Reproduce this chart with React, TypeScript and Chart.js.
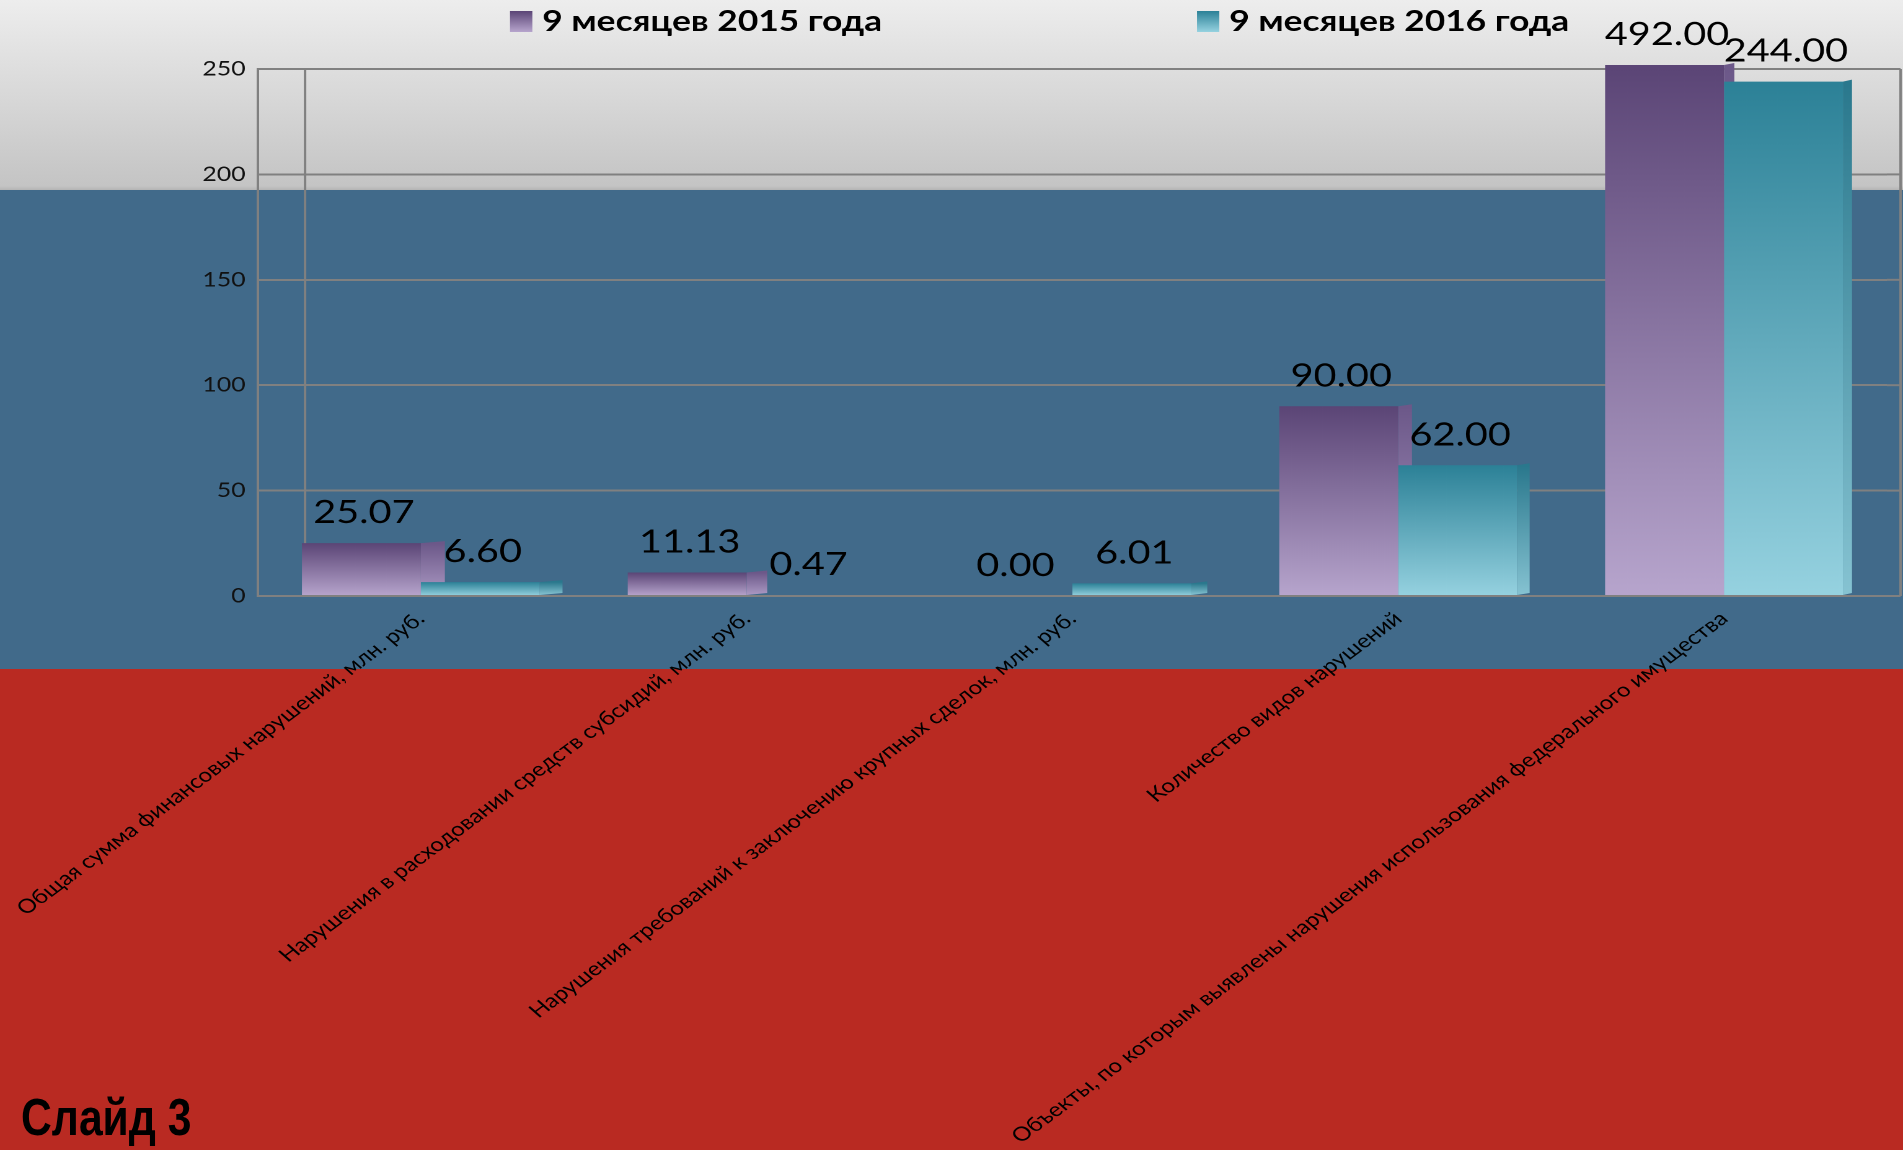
import React, { useEffect, useRef } from 'react';
import { Chart, registerables } from 'chart.js';

Chart.register(...registerables);

// ---------- data ----------
const categories = [
  'Общая сумма финансовых нарушений, млн. руб.',
  'Нарушения в расходовании средств субсидий, млн. руб.',
  'Нарушения требований к заключению крупных сделок, млн. руб.',
  'Количество видов нарушений',
  'Объекты, по которым выявлены нарушения использования федерального имущества',
];
const seriesLabels = ['9 месяцев 2015 года', '9 месяцев 2016 года'];
const values2015 = [25.07, 11.13, 0.0, 90.0, 492.0];
const values2016 = [6.6, 0.47, 6.01, 62.0, 244.0];
const yMin = 0;
const yMax = 250;
const yStep = 50;
const slideTitle = 'Слайд 3';

// ---------- look ----------
const FULL_W = 1903;
const FULL_H = 1150;
const STRETCH = 1.24; // the slide is stretched horizontally
const W = Math.round(FULL_W / STRETCH);
const H = FULL_H;

const palettes = [
  { top: '#5b4576', bottom: '#b7a5cd', sideTop: '#6c5889', sideBottom: '#ab99c3' },
  { top: '#2c8197', bottom: '#96d2e0', sideTop: '#2a788d', sideBottom: '#86c3d2' },
];
const GRID = '#808080';

function barGradient(context: any, pal: any) {
  const chart = context.chart;
  const { chartArea, scales } = chart;
  if (!chartArea || !scales || !scales.y) return pal.top;
  const y = scales.y;
  const v = context.raw as number;
  const top = y.getPixelForValue(Math.min(v, y.max)) - 4 * (v > y.max ? 1 : 0);
  const bottom = y.getPixelForValue(0);
  if (Math.abs(bottom - top) < 1) return pal.bottom;
  const g = chart.ctx.createLinearGradient(0, top, 0, bottom);
  g.addColorStop(0, pal.top);
  g.addColorStop(1, pal.bottom);
  return g;
}

function drawSides(chart: any, datasetIndex: number) {
  const { ctx, chartArea } = chart;
  const pal = palettes[datasetIndex];
  const meta = chart.getDatasetMeta(datasetIndex);
  meta.data.forEach((el: any) => {
    const { x, y, base, width } = el.getProps(['x', 'y', 'base', 'width'], true);
    if (Math.abs(base - y) < 0.5) return;
    const top = Math.max(y, chartArea.top - 4);
    const xr = x + width / 2;
    const xFull = xr * STRETCH;
    const d = Math.max(6, 24 - (xFull - 423) * 0.0105) / STRETCH;
    const dy = 2;
    const g = ctx.createLinearGradient(0, top, 0, base);
    g.addColorStop(0, pal.sideTop);
    g.addColorStop(1, pal.sideBottom);
    ctx.save();
    ctx.beginPath();
    ctx.moveTo(xr, top);
    ctx.lineTo(xr + d, top - dy);
    ctx.lineTo(xr + d, base - dy);
    ctx.lineTo(xr, base);
    ctx.closePath();
    ctx.fillStyle = g;
    ctx.fill();
    ctx.restore();
  });
}

// first series' side faces lie under the second series' bars, so they go first
const sideFacesPlugin = {
  id: 'sideFaces',
  beforeDatasetsDraw(chart: any) {
    drawSides(chart, 0);
  },
  afterDatasetsDraw(chart: any) {
    drawSides(chart, 1);
  },
};

const dataLabelsPlugin = {
  id: 'dataLabels',
  afterDatasetsDraw(chart: any) {
    const { ctx, chartArea } = chart;
    ctx.save();
    ctx.font = '32px Lato';
    ctx.fillStyle = '#000';
    ctx.textAlign = 'center';
    ctx.textBaseline = 'alphabetic';
    chart.data.datasets.forEach((ds: any, di: number) => {
      const meta = chart.getDatasetMeta(di);
      meta.data.forEach((el: any, i: number) => {
        const { x, y } = el.getProps(['x', 'y'], true);
        const top = Math.max(y, chartArea.top - 4);
        ctx.fillText(Number(ds.data[i]).toFixed(2), x + 2, top - 20);
      });
    });
    ctx.restore();
  },
};

const framePlugin = {
  id: 'frame',
  beforeDatasetsDraw(chart: any) {
    const { ctx, chartArea, scales } = chart;
    const y = scales.y;
    ctx.save();
    ctx.strokeStyle = GRID;
    ctx.lineWidth = 2;
    // extend grid lines to the right edge
    y.ticks.forEach((t: any) => {
      const py = y.getPixelForValue(t.value);
      ctx.beginPath();
      ctx.moveTo(chartArea.right, py);
      ctx.lineTo(chart.width - 2, py);
      ctx.stroke();
    });
    // back wall & right wall
    const backX = chartArea.left + 38;
    ctx.beginPath();
    ctx.moveTo(backX, y.getPixelForValue(yMax));
    ctx.lineTo(backX, y.getPixelForValue(yMin));
    ctx.moveTo(chart.width - 2, y.getPixelForValue(yMax));
    ctx.lineTo(chart.width - 2, y.getPixelForValue(yMin));
    ctx.stroke();
    ctx.restore();
  },
};

const legendPlugin = {
  id: 'customLegend',
  afterDraw(chart: any) {
    const { ctx } = chart;
    const positions = [0.268, 0.629];
    ctx.save();
    ctx.font = 'bold 28.5px Lato';
    ctx.textBaseline = 'alphabetic';
    ctx.textAlign = 'left';
    chart.data.datasets.forEach((ds: any, i: number) => {
      const bx = chart.width * positions[i];
      const pal = palettes[i];
      const g = ctx.createLinearGradient(0, 11, 0, 32);
      g.addColorStop(0, pal.top);
      g.addColorStop(1, pal.bottom);
      ctx.fillStyle = g;
      ctx.fillRect(bx, 11, 18, 21);
      ctx.fillStyle = '#000';
      ctx.fillText(ds.label, bx + 26, 31);
    });
    ctx.restore();
  },
};

export default function App() {
  const canvasRef = useRef<HTMLCanvasElement | null>(null);

  useEffect(() => {
    const canvas = canvasRef.current;
    if (!canvas) return;
    const chart = new Chart(canvas, {
      type: 'bar',
      data: {
        labels: categories,
        datasets: [
          {
            label: seriesLabels[0],
            data: values2015,
            backgroundColor: (c: any) => barGradient(c, palettes[0]),
            borderWidth: 0,
            clip: { left: 0, right: 0, top: 4, bottom: 0 } as any,
          },
          {
            label: seriesLabels[1],
            data: values2016,
            backgroundColor: (c: any) => barGradient(c, palettes[1]),
            borderWidth: 0,
            clip: { left: 0, right: 0, top: 4, bottom: 0 } as any,
          },
        ],
      },
      options: {
        animation: false,
        responsive: false,
        devicePixelRatio: 2,
        layout: { padding: { top: 69, right: W - 1522, left: 0, bottom: 0 } },
        datasets: { bar: { categoryPercentage: 0.73, barPercentage: 1.0 } },
        plugins: {
          legend: { display: false },
          tooltip: { enabled: false },
        },
        scales: {
          x: {
            grid: { display: false },
            border: { display: false },
            ticks: {
              color: '#000',
              font: { family: 'Lato', size: 19.5 },
              minRotation: 42.5,
              maxRotation: 42.5,
              autoSkip: false,
              padding: 3,
            },
            afterFit: (scale: any) => {
              scale.height = H - 596;
              scale.paddingLeft = 0;
              scale.paddingRight = 0;
            },
          },
          y: {
            min: yMin,
            max: yMax,
            grid: { color: GRID, lineWidth: 2, drawTicks: false },
            border: { display: true, color: GRID, width: 2 },
            ticks: {
              stepSize: yStep,
              color: '#111',
              font: { family: 'Lato', size: 20 },
              padding: 10,
            },
            afterFit: (scale: any) => {
              scale.width = 258 / STRETCH;
            },
          },
        },
      },
      plugins: [framePlugin, sideFacesPlugin, dataLabelsPlugin, legendPlugin],
    });
    return () => chart.destroy();
  }, []);

  return (
    <div
      style={{
        position: 'absolute',
        left: 0,
        top: 0,
        width: FULL_W,
        height: FULL_H,
        overflow: 'hidden',
        background:
          'linear-gradient(to bottom, #ededed 0px, #c4c4c4 186px, #b4b4b4 190px, #416a8a 190px, #416a8a 669px, #b92a22 669px, #b92a22 100%)',
      }}
    >
      <canvas
        ref={canvasRef}
        width={W}
        height={H}
        style={{ position: 'absolute', left: 0, top: 0, width: FULL_W + 'px', height: FULL_H + 'px' }}
      />
      <div
        style={{
          position: 'absolute',
          left: 21,
          top: 1091,
          fontFamily: '"Liberation Sans", Arial, sans-serif',
          fontWeight: 'bold',
          fontSize: 52,
          lineHeight: '52px',
          color: '#000',
          whiteSpace: 'nowrap',
          transform: 'scaleX(0.82)',
          transformOrigin: 'left top',
        }}
      >
        {slideTitle}
      </div>
    </div>
  );
}
